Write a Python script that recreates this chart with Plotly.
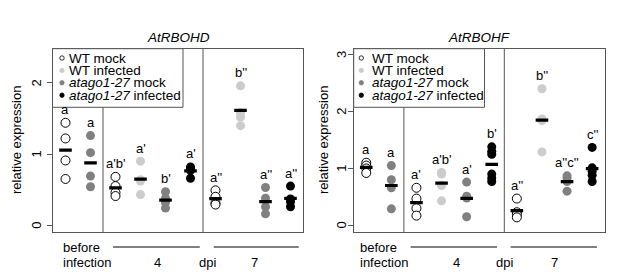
import numpy as np
import plotly.graph_objects as go

W, H = 617, 274
FONT = "Liberation Sans, Arial, sans-serif"

# ---------------- data ----------------
series_names = ["WT mock", "WT infected", "atago1-27 mock", "atago1-27 infected"]
series_legend = ["WT mock", "WT infected", "<i>atago1-27</i> mock", "<i>atago1-27</i> infected"]
series_fill = ["white", "#cccccc", "#808080", "#000000"]
series_line = ["#000000", "#cccccc", "#808080", "#000000"]

x_pos = [1, 2, 3, 4, 5, 6, 7, 8, 9, 10]
pos_series = [0, 2, 0, 1, 2, 3, 0, 1, 2, 3]

rbohd_values = [
    [1.44, 1.22, 0.91, 0.65],
    [1.26, 1.02, 0.69, 0.54],
    [0.68, 0.55, 0.46, 0.41],
    [0.90, 0.64, 0.62, 0.43],
    [0.47, 0.38, 0.32, 0.24],
    [0.82, 0.80, 0.77, 0.66],
    [0.49, 0.40, 0.31, 0.29],
    [1.96, 1.58, 1.52, 1.40],
    [0.53, 0.38, 0.26, 0.16],
    [0.55, 0.37, 0.33, 0.26],
]
rbohd_labels = ["a", "a", "a'b'", "a'", "b'", "a'", "a''", "b''", "a''", "a''"]
rbohd_ticks = [0, 1, 2]

rbohf_values = [
    [1.10, 1.05, 1.00, 0.92],
    [1.05, 0.80, 0.66, 0.29],
    [0.66, 0.47, 0.30, 0.17],
    [0.93, 0.90, 0.70, 0.43],
    [0.76, 0.51, 0.48, 0.15],
    [1.38, 1.30, 1.25, 0.90, 0.83, 0.77],
    [0.47, 0.23, 0.19, 0.14],
    [2.40, 1.87, 1.84, 1.29],
    [0.87, 0.83, 0.77, 0.60],
    [1.37, 1.01, 0.95, 0.88, 0.77],
]
rbohf_labels = ["a", "a", "a'", "a'b'", "a'", "b'", "a''", "b''", "a''c''", "c''"]
rbohf_ticks = [0, 1, 2, 3]

panels = [
    dict(title="AtRBOHD", values=rbohd_values, labels=rbohd_labels, yticks=rbohd_ticks,
         xa="x", ya="y", yrange=[-0.1, 2.482],
         xdom=[45, 295], ytitle_x=8, ticklab_x=28.5,
         legend_box=[44.5, 175], sym_x=54, txt_x=59,
         before_x=0.81, lines=[(2.9, 6.37), (6.93, 10.33)], n4=4.67, ndpi=6.67, n7=8.57),
    dict(title="AtRBOHF", values=rbohf_values, labels=rbohf_labels, yticks=rbohf_ticks,
         xa="x2", ya="y2", yrange=[-0.123, 3.105],
         xdom=[345.7, 596.7], ytitle_x=315, ticklab_x=333.3,
         legend_box=[345.7, 476.5], sym_x=353.3, txt_x=362,
         before_x=0.67, lines=[(2.77, 6.21), (6.75, 10.19)], n4=4.59, ndpi=6.49, n7=8.51),
]


def px(x):
    return x / W


def py(y):
    return 1 - y / H


YDOM = [py(224.3), py(40.7)]

fig = go.Figure()
shapes = []
annotations = []

for p in panels:
    xa, ya = p["xa"], p["ya"]
    # points
    for xi, si, vals in zip(x_pos, pos_series, p["values"]):
        fig.add_trace(go.Scatter(
            x=[xi] * len(vals), y=vals, mode="markers", xaxis=xa, yaxis=ya,
            showlegend=False, hoverinfo="skip",
            marker=dict(size=9, color=series_fill[si],
                        line=dict(color=series_line[si], width=1 if si == 0 else 0)),
        ))
    # mean bars
    means = [float(np.mean(v)) for v in p["values"]]
    fig.add_trace(go.Scatter(
        x=x_pos, y=means, mode="markers", xaxis=xa, yaxis=ya, showlegend=False,
        hoverinfo="skip",
        marker=dict(symbol="line-ew", size=9, line=dict(color="black", width=3.2)),
    ))
    # letters
    for xi, vals, lab in zip(x_pos, p["values"], p["labels"]):
        annotations.append(dict(
            x=xi, y=max(vals), xref=xa, yref=ya, text=lab, showarrow=False,
            yanchor="middle", yshift=13, font=dict(size=13, color="black", family=FONT),
        ))
    # y tick labels (rotated, R style)
    for t in p["yticks"]:
        annotations.append(dict(
            x=px(p["ticklab_x"]), y=t, xref="paper", yref=ya, text=str(t), textangle=-90,
            showarrow=False, xanchor="center", yanchor="middle",
            font=dict(size=13, color="black", family=FONT),
        ))
    # dividers
    for xd in [2.5, 6.5]:
        shapes.append(dict(type="line", xref=xa, yref=ya + " domain", x0=xd, x1=xd, y0=0, y1=1,
                           line=dict(color="#555555", width=1), layer="below"))
    # legend box
    lb = p["legend_box"]
    shapes.append(dict(type="rect", xref="paper", yref="paper",
                       x0=px(lb[0]), x1=px(lb[1]), y0=py(99.3), y1=py(40.7),
                       fillcolor="white", line=dict(color="#555555", width=1), layer="above"))
    row_y = [50, 62.4, 74.8, 87.2]
    for si in range(4):
        shapes.append(dict(type="circle", xref="paper", yref="paper",
                           xsizemode="pixel", ysizemode="pixel",
                           xanchor=px(p["sym_x"]), yanchor=py(row_y[si]),
                           x0=-2.2, x1=2.2, y0=-2.2, y1=2.2,
                           fillcolor=series_fill[si],
                           line=dict(color=series_line[si] if si == 0 else series_fill[si], width=0.8),
                           layer="above"))
        annotations.append(dict(
            x=px(p["txt_x"]), y=py(row_y[si]), xref="paper", yref="paper",
            text=series_legend[si], showarrow=False, xanchor="left", yanchor="middle",
            font=dict(size=13.5, color="black", family=FONT),
        ))
    # title
    annotations.append(dict(
        x=px((p["xdom"][0] + p["xdom"][1]) / 2), y=py(29), xref="paper", yref="paper",
        text="<i>" + p["title"] + "</i>", showarrow=False, xanchor="center", yanchor="middle",
        font=dict(size=13.5, color="black", family=FONT),
    ))
    # y title
    annotations.append(dict(
        x=px(p["ytitle_x"]), y=py(132), xref="paper", yref="paper",
        text="relative expression", textangle=-90, showarrow=False,
        xanchor="center", yanchor="middle", font=dict(size=13, color="black", family=FONT),
    ))
    # bottom labels
    for txt, xv, yv, anch in [("before", p["before_x"], 239, "left"),
                              ("infection", p["before_x"], 254.3, "left"),
                              ("4", p["n4"], 254.3, "center"),
                              ("dpi", p["ndpi"], 254.3, "center"),
                              ("7", p["n7"], 254.3, "center")]:
        annotations.append(dict(
            x=xv, y=py(yv), xref=xa, yref="paper", text=txt, showarrow=False,
            xanchor=anch, yanchor="middle", font=dict(size=13, color="black", family=FONT),
        ))
    for (a, b) in p["lines"]:
        shapes.append(dict(type="line", xref=xa, yref="paper", x0=a, x1=b,
                           y0=py(239), y1=py(239), line=dict(color="black", width=1)))

axis_common = dict(showline=True, mirror=True, linecolor="#555555", linewidth=1,
                   showgrid=False, zeroline=False)

fig.update_layout(
    width=W, height=H, margin=dict(l=0, r=0, t=0, b=0),
    paper_bgcolor="white", plot_bgcolor="white",
    font=dict(family=FONT, size=13, color="black"),
    showlegend=False,
    shapes=shapes, annotations=annotations,
    xaxis=dict(domain=[px(45), px(295)], range=[0.5, 10.5], showticklabels=False,
               ticks="", anchor="y", **axis_common),
    yaxis=dict(domain=YDOM, range=panels[0]["yrange"], tickvals=panels[0]["yticks"],
               ticks="outside", ticklen=5, tickcolor="#555555", showticklabels=False,
               anchor="x", **axis_common),
    xaxis2=dict(domain=[px(345.7), px(596.7)], range=[0.5, 10.5], showticklabels=False,
                ticks="", anchor="y2", **axis_common),
    yaxis2=dict(domain=YDOM, range=panels[1]["yrange"], tickvals=panels[1]["yticks"],
                ticks="outside", ticklen=5, tickcolor="#555555", showticklabels=False,
                anchor="x2", **axis_common),
)

fig.write_html("out.html")
